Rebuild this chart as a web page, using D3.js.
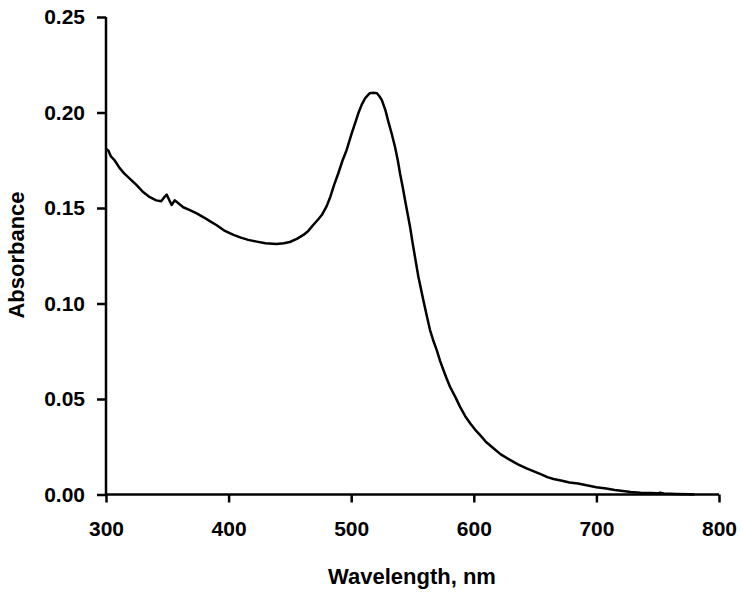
<!DOCTYPE html>
<html>
<head>
<meta charset="utf-8">
<script src="https://cdn.jsdelivr.net/npm/d3@7"></script>
<style>
  html, body { margin: 0; padding: 0; background: #fff; }
  svg { display: block; }
  text { font-family: "Liberation Sans", Arial, sans-serif; font-weight: bold; fill: #000; }
</style>
</head>
<body>
<svg id="chart" width="743" height="596"></svg>
<script>
// ---- data ----
const wavelength = [300,302,304,307,311,315,320,325,330,335,341,345,348,349.5,351,353.5,356,358,363,368,374,380,385,390,397,404,410,416,423,430,439,445,450,456,461,465,469,473,476,480,483,486,489.5,493,496.3,500.4,503,505.8,508.5,511.3,515,518,521,523,525,528,530.3,533,535.7,538,539.8,542,543.9,546,548,550,552,554.8,558.8,561.5,564.3,567,569.7,572.5,575.2,578,580.6,585,588.7,593,597,601,605,610,616,622,629.5,636,643,650,655,660,665,672,678,685,692,700,708,715,720,728,736,744,750,752,755,765,776,780];
const absorbance = [0.181,0.180,0.177,0.175,0.171,0.168,0.165,0.162,0.1585,0.156,0.154,0.1535,0.156,0.157,0.155,0.1516,0.154,0.153,0.1504,0.149,0.1472,0.145,0.143,0.1411,0.138,0.1359,0.1345,0.1333,0.1324,0.1315,0.1311,0.1315,0.1322,0.134,0.1359,0.138,0.1411,0.144,0.1463,0.151,0.1559,0.162,0.1682,0.175,0.1804,0.1891,0.194,0.1996,0.204,0.2074,0.2101,0.2103,0.2101,0.2085,0.2065,0.201,0.1952,0.189,0.1821,0.175,0.1682,0.161,0.1542,0.147,0.1402,0.132,0.1245,0.114,0.1018,0.094,0.0861,0.0805,0.0757,0.070,0.0652,0.0605,0.0564,0.051,0.046,0.041,0.0373,0.034,0.0312,0.0275,0.0242,0.021,0.0181,0.0158,0.0137,0.0118,0.0105,0.0091,0.0081,0.0072,0.0063,0.0058,0.0048,0.0038,0.0031,0.0024,0.0020,0.0013,0.0009,0.0008,0.0006,0.001,0.0005,0.0003,0.0001,0.0];
const xTicks = [300,400,500,600,700,800];
const yTicks = [0,0.05,0.10,0.15,0.20,0.25];
const xTitle = "Wavelength, nm";
const yTitle = "Absorbance";

// ---- layout ----
const plotLeft = 106, plotRight = 719, plotTop = 17, plotBottom = 494.5;
const svg = d3.select("#chart");

const x = d3.scaleLinear().domain([300, 800]).range([plotLeft, plotRight]);
const y = d3.scaleLinear().domain([0, 0.25]).range([plotBottom, plotTop]);

// axes
const xAxis = svg.append("g")
  .attr("transform", `translate(0,${plotBottom})`)
  .call(d3.axisBottom(x).tickValues(xTicks).tickSize(8).tickPadding(19).tickFormat(d3.format("d")));
const yAxis = svg.append("g")
  .attr("transform", `translate(${plotLeft},0)`)
  .call(d3.axisLeft(y).tickValues(yTicks).tickSize(9).tickPadding(12).tickFormat(d3.format(".2f")));

[xAxis, yAxis].forEach(g => {
  g.select(".domain").attr("stroke", "#000").attr("stroke-width", 2.5);
  g.selectAll(".tick line").attr("stroke", "#000").attr("stroke-width", 2.5);
  g.selectAll(".tick text")
    .style("font-family", '"Liberation Sans", Arial, sans-serif')
    .style("font-weight", "bold")
    .style("font-size", "21px")
    .attr("fill", "#000");
});
xAxis.select(".domain").attr("d", `M${plotLeft},0H${plotRight}`);
yAxis.select(".domain").attr("d", `M0,${plotBottom}V${plotTop}`);

// line
const pts = wavelength.map((w, i) => [w, absorbance[i]]);
svg.append("path")
  .datum(pts)
  .attr("fill", "none")
  .attr("stroke", "#000")
  .attr("stroke-width", 2.5)
  .attr("stroke-linejoin", "round")
  .attr("d", d3.line().x(d => x(d[0])).y(d => y(d[1])));

// titles
svg.append("text")
  .attr("x", 412).attr("y", 584)
  .attr("text-anchor", "middle")
  .style("font-size", "22px")
  .text(xTitle);
svg.append("text")
  .attr("transform", "translate(24,255) rotate(-90)")
  .attr("text-anchor", "middle")
  .style("font-size", "22px")
  .text(yTitle);
</script>
</body>
</html>
